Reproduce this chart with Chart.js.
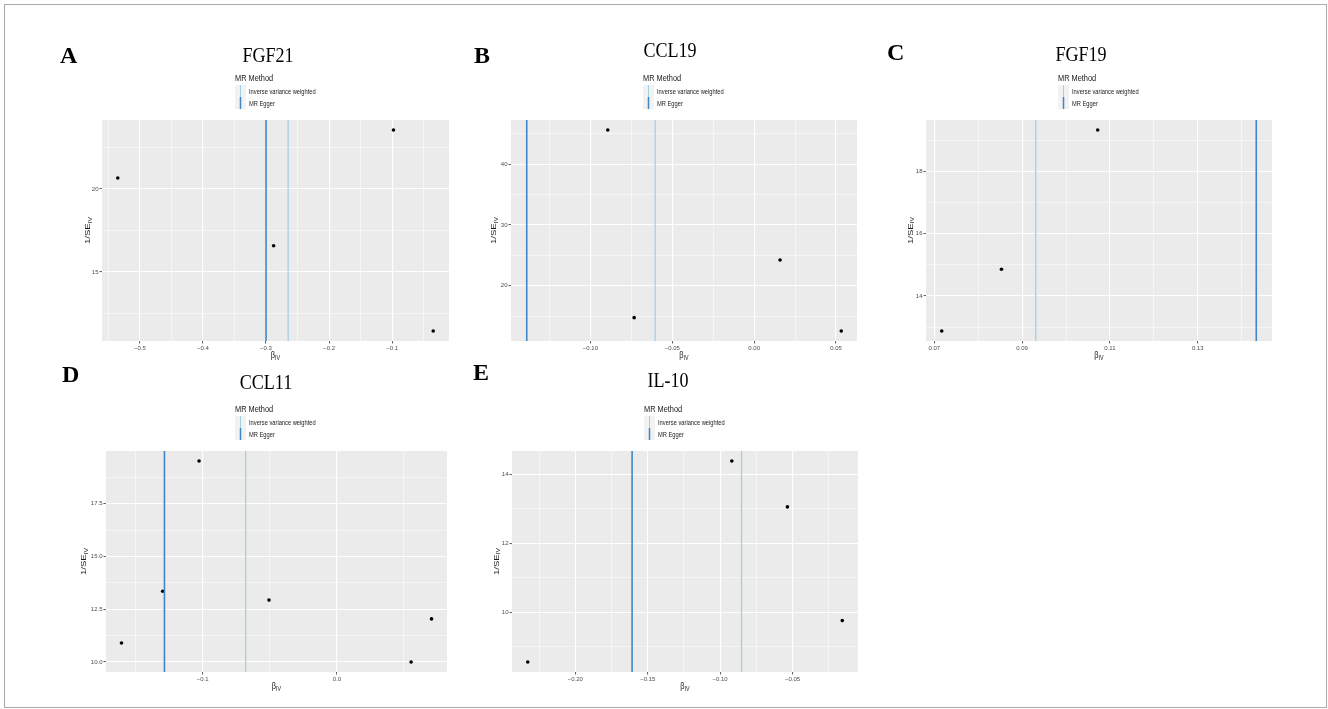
<!DOCTYPE html>
<html>
<head>
<meta charset="utf-8">
<title>MR funnel plots</title>
<script src="https://cdn.jsdelivr.net/npm/chart.js@4.4.1/dist/chart.umd.min.js"></script>
<style>
  body { margin: 0; background: #fff; }
  #frame { position: absolute; left: 4px; top: 4px; width: 1321px; height: 702px; border: 1px solid #a9a9a9; }
  canvas { position: absolute; }
</style>
</head>
<body>
<div id="frame"></div>
<div id="panels"></div>
<script>
// Dados (funnel plots de MR)
const panelLetters = ['A', 'B', 'C', 'D', 'E'];
const panelTitles = ['FGF21', 'CCL19', 'FGF19', 'CCL11', 'IL-10'];
const methodNames = ['Inverse variance weighted', 'MR Egger'];

const betaFGF21 = [-0.535, -0.288, -0.098, -0.035];
const invSeFGF21 = [20.66, 16.58, 23.55, 11.45];
const betaCCL19 = [-0.0894, -0.0733, 0.0158, 0.0532];
const invSeCCL19 = [45.64, 14.74, 24.23, 12.55];
const betaFGF19 = [0.0717, 0.0853, 0.1072];
const invSeFGF19 = [12.88, 14.86, 19.32];
const betaCCL11 = [-0.1605, -0.1298, -0.1027, -0.0506, 0.0553, 0.0705];
const invSeCCL11 = [10.90, 13.35, 19.52, 12.93, 10.00, 12.04];
const betaIL10 = [-0.2329, -0.0919, -0.0535, -0.0156];
const invSeIL10 = [8.56, 14.39, 13.06, 9.76];

// estimativas causais (linhas verticais)
const ivwEstimate = [-0.265, -0.0605, 0.0931, -0.068, -0.0852];
const eggerEstimate = [-0.300, -0.1389, 0.1433, -0.1285, -0.1608];

// rótulos dos eixos
const xTickLabels = [
    ['-0.5', '-0.4', '-0.3', '-0.2', '-0.1'],
    ['-0.10', '-0.05', '0.00', '0.05'],
    ['0.07', '0.09', '0.11', '0.13'],
    ['-0.1', '0.0'],
    ['-0.20', '-0.15', '-0.10', '-0.05']
];
const yTickLabels = [
    ['15', '20'],
    ['20', '30', '40'],
    ['14', '16', '18'],
    ['10.0', '12.5', '15.0', '17.5'],
    ['10', '12', '14']
];

const betaIV = [betaFGF21, betaCCL19, betaFGF19, betaCCL11, betaIL10];
const invSeIV = [invSeFGF21, invSeCCL19, invSeFGF19, invSeCCL11, invSeIL10];

// layout (pixels da página)
const plotBoxes = [[102, 120, 449, 341], [511, 120, 857, 341], [926, 120, 1272, 341], [106, 451, 447, 672], [512, 451, 858, 672]];
const letterAt = [[60, 63], [474, 63], [887, 60], [62, 382], [473, 380]];
const titleAt = [[268, 62], [670, 57], [1081, 61], [266, 389], [668, 387]];
const legendLeft = [235, 643, 1058, 235, 644];
const yTitleGap = [14.5, 17, 15.7, 22, 15.7];
const MARGIN = { left: 70, top: 100, right: 22, bottom: 30 };
const Y_AXIS_W = 24, X_AXIS_H = 14;
const SQUEEZE = 0.82;

const COL_IVW = '#a6cee3';
const COL_EGGER = '#3f87c4';

function expandRange(vals) {
    const lo = Math.min(...vals), hi = Math.max(...vals);
    const pad = (hi - lo) * 0.05;
    return [lo - pad, hi + pad];
}

function buildTicks(labels, lo, hi) {
    const majors = labels.map(l => parseFloat(l));
    const step = majors[1] - majors[0];
    const ticks = labels.map((l, i) => ({ value: majors[i], text: l.replace('-', '\u2212'), minor: false }));
    const mids = [majors[0] - step / 2];
    majors.forEach(m => mids.push(m + step / 2));
    mids.forEach(m => { if (m > lo && m < hi) ticks.push({ value: m, text: '', minor: true }); });
    ticks.sort((a, b) => a.value - b.value);
    return ticks;
}

function squeezedText(ctx, str, x, y, font, color, align) {
    ctx.save();
    ctx.font = font;
    ctx.fillStyle = color;
    ctx.textBaseline = 'alphabetic';
    ctx.textAlign = align;
    ctx.translate(x, y);
    ctx.scale(SQUEEZE, 1);
    ctx.fillText(str, 0, 0);
    ctx.restore();
}

function subscriptLabel(ctx, main, sub, size) {
    // texto com subscrito, centrado em (0,0)
    ctx.font = size + 'px "Liberation Sans"';
    const wm = ctx.measureText(main).width;
    ctx.font = (size * 0.72) + 'px "Liberation Sans"';
    const ws = ctx.measureText(sub).width;
    const x0 = -(wm + ws) / 2;
    ctx.fillStyle = '#1a1a1a';
    ctx.textAlign = 'left';
    ctx.textBaseline = 'alphabetic';
    ctx.font = size + 'px "Liberation Sans"';
    ctx.fillText(main, x0, 3);
    ctx.font = (size * 0.72) + 'px "Liberation Sans"';
    ctx.fillText(sub, x0 + wm, 5);
}

function makeDecor(i, left, top) {
    return {
        id: 'decor' + i,
        beforeDraw(chart) {
            const a = chart.chartArea;
            const ctx = chart.ctx;
            ctx.save();
            ctx.fillStyle = '#ebebeb';
            ctx.fillRect(a.left, a.top, a.right - a.left, a.bottom - a.top);
            ctx.restore();
        },
        afterDraw(chart) {
            const ctx = chart.ctx;
            const a = chart.chartArea;
            // letra do painel
            ctx.save();
            ctx.font = 'bold 24px "Liberation Serif"';
            ctx.fillStyle = '#000';
            ctx.textAlign = 'left';
            ctx.fillText(panelLetters[i], letterAt[i][0] - left, letterAt[i][1] - top);
            ctx.restore();
            // título
            squeezedText(ctx, panelTitles[i], titleAt[i][0] - left, titleAt[i][1] - top, '22px "Liberation Serif"', '#000', 'center');
            // legenda
            const lx = legendLeft[i] - left;
            const py = a.top;
            squeezedText(ctx, 'MR Method', lx, py - 39, '9px "Liberation Sans"', '#1a1a1a', 'left');
            ctx.save();
            ctx.fillStyle = '#f2f2f2';
            ctx.fillRect(lx, py - 35, 11, 24);
            ctx.strokeStyle = COL_IVW;
            ctx.lineWidth = 1;
            ctx.beginPath(); ctx.moveTo(lx + 5.5, py - 35); ctx.lineTo(lx + 5.5, py - 23); ctx.stroke();
            ctx.strokeStyle = COL_EGGER;
            ctx.lineWidth = 1.5;
            ctx.beginPath(); ctx.moveTo(lx + 5.5, py - 23); ctx.lineTo(lx + 5.5, py - 11); ctx.stroke();
            ctx.restore();
            squeezedText(ctx, methodNames[0], lx + 14, py - 26.5, '7px "Liberation Sans"', '#1a1a1a', 'left');
            squeezedText(ctx, methodNames[1], lx + 14, py - 14.5, '7px "Liberation Sans"', '#1a1a1a', 'left');
            // títulos dos eixos
            ctx.save();
            ctx.translate(a.left - yTitleGap[i], (a.top + a.bottom) / 2);
            ctx.scale(SQUEEZE, 1);
            ctx.rotate(-Math.PI / 2);
            subscriptLabel(ctx, '1/SE', 'IV', 9.5);
            ctx.restore();
            ctx.save();
            ctx.translate((a.left + a.right) / 2, a.bottom + 14);
            ctx.scale(SQUEEZE, 1);
            subscriptLabel(ctx, '\u03b2', 'IV', 9);
            ctx.restore();
        }
    };
}

function axisOptions(ticks, lo, hi, isX) {
    return {
        type: 'linear',
        position: isX ? 'bottom' : 'left',
        min: lo,
        max: hi,
        afterBuildTicks: s => { s.ticks = ticks.map(t => Object.assign({}, t)); },
        afterFit: s => { if (isX) s.height = X_AXIS_H; else s.width = Y_AXIS_W; },
        border: { display: false },
        grid: {
            color: '#ffffff',
            lineWidth: c => (c.tick && c.tick.minor) ? 0.5 : 1.1,
            tickLength: 2.5,
            tickWidth: 0.8,
            tickColor: c => (c.tick && c.tick.minor) ? 'rgba(0,0,0,0)' : '#333333'
        },
        ticks: {
            autoSkip: false,
            maxRotation: 0,
            padding: 1,
            color: '#4d4d4d',
            font: { family: 'Liberation Sans', size: 6 },
            callback: (v, idx, arr) => arr[idx].text || ''
        }
    };
}

function renderPanel(i) {
    const box = plotBoxes[i];
    const left = box[0] - MARGIN.left;
    const top = box[1] - MARGIN.top;
    const w = box[2] - box[0] + MARGIN.left + MARGIN.right;
    const h = box[3] - box[1] + MARGIN.top + MARGIN.bottom;

    const canvas = document.createElement('canvas');
    canvas.width = w;
    canvas.height = h;
    canvas.style.left = left + 'px';
    canvas.style.top = top + 'px';
    document.getElementById('panels').appendChild(canvas);

    const xs = betaIV[i], ys = invSeIV[i];
    const [xlo, xhi] = expandRange(xs.concat([ivwEstimate[i], eggerEstimate[i]]));
    const [ylo, yhi] = expandRange(ys);

    const points = xs.map((x, k) => ({ x: x, y: ys[k] }));
    const vline = v => [{ x: v, y: ylo }, { x: v, y: yhi }];

    new Chart(canvas.getContext('2d'), {
        type: 'scatter',
        data: {
            datasets: [
                { label: methodNames[0], data: vline(ivwEstimate[i]), showLine: true, borderColor: COL_IVW, borderWidth: 1.3, pointRadius: 0, order: 1 },
                { label: methodNames[1], data: vline(eggerEstimate[i]), showLine: true, borderColor: COL_EGGER, borderWidth: 1.6, pointRadius: 0, order: 1 },
                { label: 'SNP', data: points, pointRadius: 1.8, backgroundColor: '#000', borderWidth: 0, order: 2 }
            ]
        },
        options: {
            responsive: false,
            animation: false,
            devicePixelRatio: 1,
            layout: { padding: { left: MARGIN.left - Y_AXIS_W, top: MARGIN.top, right: MARGIN.right, bottom: MARGIN.bottom - X_AXIS_H } },
            plugins: { legend: { display: false }, tooltip: { enabled: false }, title: { display: false } },
            scales: {
                x: axisOptions(buildTicks(xTickLabels[i], xlo, xhi), xlo, xhi, true),
                y: axisOptions(buildTicks(yTickLabels[i], ylo, yhi), ylo, yhi, false)
            }
        },
        plugins: [makeDecor(i, left, top)]
    });
}

panelLetters.forEach((_, i) => renderPanel(i));
</script>
</body>
</html>
